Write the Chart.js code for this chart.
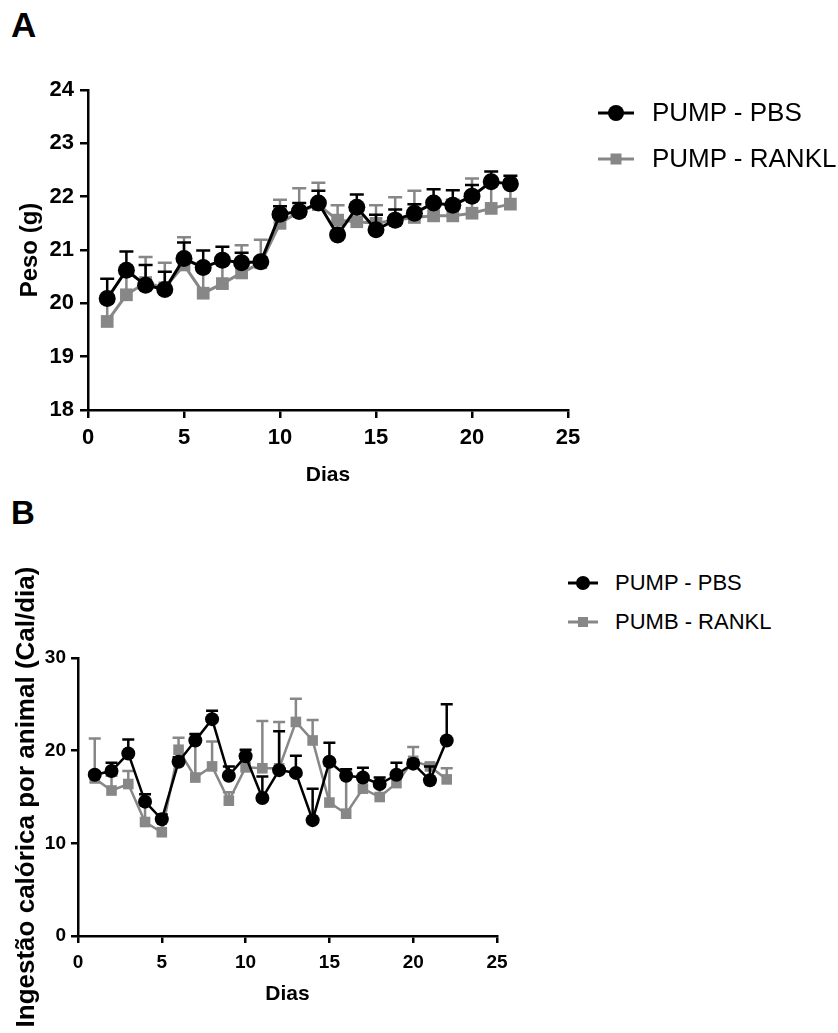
<!DOCTYPE html>
<html><head><meta charset="utf-8">
<script src="https://cdn.jsdelivr.net/npm/chart.js@4.4.0/dist/chart.umd.min.js"></script>
<style>
body{margin:0;background:#fff;width:838px;height:1033px;position:relative;overflow:hidden;font-family:"Liberation Sans",Arial,sans-serif;}
.plabel{position:absolute;font-weight:bold;color:#000;line-height:1;}
.wrap{position:absolute;left:0;}
.legrow{position:absolute;white-space:nowrap;color:#000;}
.legrow svg{position:absolute;}
</style>
</head><body>
<div class="plabel" style="left:11px;top:7px;font-size:35px;">A</div>
<div class="plabel" style="left:11px;top:496px;font-size:33px;">B</div>
<div class="wrap" style="top:60px;width:600px;height:440px;"><canvas id="cA" width="600" height="440"></canvas></div>
<div class="wrap" style="top:540px;width:520px;height:493px;"><canvas id="cB" width="520" height="493"></canvas></div>
<div id="legA"></div>
<div id="legB"></div>
<script>
// ---------- data ----------
const days = [1,2,3,4,5,6,7,8,9,10,11,12,13,14,15,16,17,18,19,20,21,22];

// Panel A: Peso (g)
const pesoPBS      = [20.09,20.62,20.34,20.26,20.84,20.67,20.81,20.76,20.78,21.67,21.72,21.88,21.28,21.80,21.38,21.56,21.69,21.88,21.84,22.01,22.28,22.24];
const pesoPBSErr   = [0.37,0.35,0.38,0.33,0.30,0.32,0.25,0.19,0.07,0.15,0.16,0.23,0.08,0.24,0.28,0.20,0.17,0.26,0.28,0.21,0.19,0.15];
const pesoRANKL    = [19.66,20.16,20.39,20.29,20.72,20.19,20.37,20.57,20.76,21.50,21.72,21.85,21.56,21.53,21.50,21.56,21.61,21.64,21.64,21.69,21.78,21.86];
const pesoRANKLErr = [0.35,0.40,0.48,0.47,0.52,0.50,0.45,0.52,0.43,0.44,0.44,0.41,0.28,0.30,0.34,0.43,0.50,0.30,0.30,0.65,0.50,0.40];

// Panel B: Ingestão calórica por animal (Cal/dia)
const ingPBS      = [17.4,17.8,19.7,14.5,12.6,18.8,21.1,23.4,17.3,19.4,14.9,17.9,17.6,12.5,18.8,17.3,17.1,16.4,17.4,18.6,16.8,21.1];
const ingPBSErr   = [0.3,0.9,1.5,0.8,0.5,0.5,0.7,0.9,1.0,0.7,2.3,4.2,1.85,3.4,2.05,0.7,1.05,0.7,1.3,0.4,1.5,3.9];
const ingRANKL    = [17.0,15.7,16.4,12.3,11.2,20.1,17.1,18.3,14.6,18.2,18.1,18.1,23.1,21.1,14.4,13.2,15.9,15.0,16.5,18.9,18.3,16.9];
const ingRANKLErr = [4.3,1.6,1.4,1.8,1.5,1.3,3.9,2.7,0.9,1.0,5.1,5.0,2.5,2.2,4.0,4.1,1.0,1.1,0.8,1.5,0.3,1.2];

const xTicksA = [0,5,10,15,20,25];
const yTicksA = [18,19,20,21,22,23,24];
const xTicksB = [0,5,10,15,20,25];
const yTicksB = [0,10,20,30];

const legendA = ['PUMP - PBS','PUMP - RANKL'];
const legendB = ['PUMP - PBS','PUMB - RANKL'];

// ---------- styles ----------
const FAM = "'Liberation Sans', Arial, sans-serif";
const BLACK = '#000000';
const GRAY = '#878787';

const errorBars = {
  id:'errorBars',
  beforeDatasetDraw(chart, args, opts){
    const ds = chart.data.datasets[args.index];
    if(!ds.errors) return;
    const ctx = chart.ctx, xs = chart.scales.x, ys = chart.scales.y;
    ctx.save();
    ctx.strokeStyle = ds.errColor;
    ctx.lineWidth = opts.width;
    ctx.lineCap = 'butt';
    ds.data.forEach((p,i)=>{
      const px = xs.getPixelForValue(p.x);
      const py = ys.getPixelForValue(p.y);
      const pt = ys.getPixelForValue(p.y + ds.errors[i]);
      ctx.beginPath();
      ctx.moveTo(px,py); ctx.lineTo(px,pt);
      ctx.moveTo(px-opts.cap,pt); ctx.lineTo(px+opts.cap,pt);
      ctx.stroke();
    });
    ctx.restore();
  }
};

function makeSeries(label, xs, ys, errs, color, style, radius, lw){
  return {
    label, data: xs.map((x,i)=>({x, y: ys[i]})), errors: errs, errColor: color,
    borderColor: color, backgroundColor: color, borderWidth: lw,
    pointStyle: style, pointRadius: radius, pointHoverRadius: radius,
    pointBackgroundColor: color, pointBorderColor: color, pointBorderWidth: 0,
    tension: 0, fill: false
  };
}

function axis(min, max, ticks, tickFont, tickLen, tickPad, title, titleFont, titlePad, fitFn){
  return {
    type:'linear', min, max,
    afterBuildTicks: s => { s.ticks = ticks.map(v=>({value:v})); },
    ticks:{color:BLACK, font:{family:FAM, size:tickFont, weight:'bold'}, padding:tickPad, autoSkip:false},
    grid:{display:true, drawOnChartArea:false, drawTicks:true, tickLength:tickLen, color:BLACK, lineWidth:2.5},
    border:{display:true, color:BLACK, width:2.5},
    title:{display:true, text:title, color:BLACK, font:{family:FAM, size:titleFont, weight:'bold'}, padding:titlePad},
    afterFit: fitFn
  };
}

Chart.defaults.animation = false;

new Chart(document.getElementById('cA'), {
  type:'line',
  data:{datasets:[
    makeSeries(legendA[0], days, pesoPBS, pesoPBSErr, BLACK, 'circle', 8.5, 3),
    makeSeries(legendA[1], days, pesoRANKL, pesoRANKLErr, GRAY, 'rect', 9, 3)
  ]},
  options:{
    responsive:false, animation:false,
    layout:{padding:{top:30,right:32,left:0,bottom:0}},
    plugins:{legend:{display:false}, tooltip:{enabled:false}, errorBars:{width:2.5, cap:7}},
    scales:{
      x: axis(0,25,xTicksA,22,8,7,'Dias',21,{top:0,bottom:12}, s=>{s.height=90;}),
      y: axis(18,24,yTicksA,22,8,6,'Peso (g)',24,{top:16,bottom:0}, s=>{s.width=88;})
    }
  },
  plugins:[errorBars]
});

new Chart(document.getElementById('cB'), {
  type:'line',
  data:{datasets:[
    makeSeries(legendB[0], days, ingPBS, ingPBSErr, BLACK, 'circle', 7, 2.5),
    makeSeries(legendB[1], days, ingRANKL, ingRANKLErr, GRAY, 'rect', 7.5, 2.5)
  ]},
  options:{
    responsive:false, animation:false,
    layout:{padding:{top:118,right:23,left:0,bottom:0}},
    plugins:{legend:{display:false}, tooltip:{enabled:false}, errorBars:{width:2.5, cap:6}},
    scales:{
      x: axis(0,25,xTicksB,19,7,8,'Dias',21,{top:0,bottom:26}, s=>{s.height=97;}),
      y: axis(0,30,yTicksB,19,7,5,'Ingestão calórica por animal (Cal/dia)',26,{top:11,bottom:0}, s=>{s.width=78;})
    }
  },
  plugins:[errorBars]
});

// ---------- legends (HTML) ----------
function legend(containerId, names, rowsY, lineX0, lineX1, textX, fontSize, rCircle, sqSide){
  const c = document.getElementById(containerId);
  const styles = [{color:BLACK, shape:'circle'},{color:GRAY, shape:'rect'}];
  names.forEach((name,i)=>{
    const st = styles[i];
    const y = rowsY[i];
    const w = lineX1-lineX0;
    const mid = w/2;
    const shape = st.shape==='circle'
      ? `<circle cx="${mid}" cy="12" r="${rCircle}" fill="${st.color}"/>`
      : `<rect x="${mid-sqSide/2}" y="${12-sqSide/2}" width="${sqSide}" height="${sqSide}" fill="${st.color}"/>`;
    const row = document.createElement('div');
    row.className='legrow';
    row.style.left='0px'; row.style.top='0px';
    row.innerHTML =
      `<svg style="left:${lineX0}px;top:${y-12}px" width="${w}" height="24"><line x1="0" y1="12" x2="${w}" y2="12" stroke="${st.color}" stroke-width="3"/>${shape}</svg>`+
      `<span style="position:absolute;left:${textX}px;top:${y-fontSize*0.6}px;font-size:${fontSize}px;line-height:${fontSize*1.2}px;">${name}</span>`;
    c.appendChild(row);
  });
}
legend('legA', legendA, [113,159], 598, 634, 652, 26, 8, 11);
legend('legB', legendB, [583,622], 568, 598, 615, 22, 7, 10);
</script>
</body></html>
